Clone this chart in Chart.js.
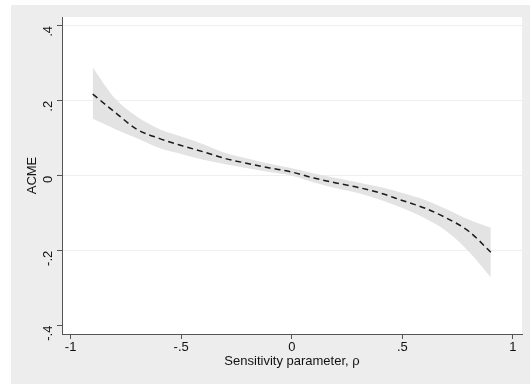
<!DOCTYPE html>
<html>
<head>
<meta charset="utf-8">
<script src="https://cdn.jsdelivr.net/npm/chart.js@4.4.1/dist/chart.umd.min.js"></script>
<style>
html,body{margin:0;padding:0;background:#fff;}
#wrap{width:530px;height:384px;position:relative;}
</style>
</head>
<body>
<div id="wrap"><canvas id="c" width="530" height="384"></canvas></div>
<script>
const rho   = [-0.9,-0.8,-0.7,-0.6,-0.5,-0.4,-0.3,-0.2,-0.1,0,0.1,0.2,0.3,0.4,0.5,0.6,0.7,0.8,0.9];
const acme  = [0.218,0.170,0.124,0.100,0.081,0.064,0.046,0.033,0.021,0.010,-0.006,-0.019,-0.031,-0.046,-0.066,-0.086,-0.113,-0.148,-0.204];
const upper = [0.289,0.207,0.158,0.125,0.105,0.084,0.061,0.046,0.032,0.020,0.006,-0.006,-0.018,-0.030,-0.046,-0.064,-0.089,-0.117,-0.139];
const lower = [0.152,0.125,0.100,0.074,0.058,0.043,0.031,0.020,0.010,0.000,-0.018,-0.033,-0.046,-0.064,-0.086,-0.113,-0.148,-0.202,-0.271];
const xTicks = [-1,-0.5,0,0.5,1];
const xTickLabels = ["-1","-.5","0",".5","1"];
const yTicks = [-0.4,-0.2,0,0.2,0.4];
const yTickLabels = ["-.4","-.2","0",".2",".4"];

const pts = arr => rho.map((r,i)=>({x:r,y:arr[i]}));

const bgPlugin = {
  id:'bg',
  beforeDraw(chart){
    const ctx = chart.ctx, a = chart.chartArea;
    ctx.save();
    ctx.fillStyle = '#ffffff';
    ctx.fillRect(0,0,chart.width,chart.height);
    ctx.fillStyle = '#ededed';
    ctx.fillRect(11,5,chart.width-11,chart.height-5);
    ctx.fillStyle = '#ffffff';
    ctx.fillRect(a.left,a.top,a.right-a.left,a.bottom-a.top);
    ctx.restore();
  }
};

const FONT = "'Liberation Sans', Arial, sans-serif";

new Chart(document.getElementById('c'), {
  type:'line',
  data:{
    datasets:[
      {label:'ACME', data:pts(acme), borderColor:'#1a1a1a', borderWidth:1.5, borderDash:[6,4],
       pointRadius:0, fill:false, order:0, cubicInterpolationMode:'monotone'},
      {label:'upper', data:pts(upper), borderWidth:0, borderColor:'rgba(0,0,0,0)', pointRadius:0,
       backgroundColor:'#e3e3e3', fill:'+1', order:1, cubicInterpolationMode:'monotone'},
      {label:'lower', data:pts(lower), borderWidth:0, borderColor:'rgba(0,0,0,0)', pointRadius:0,
       backgroundColor:'#e3e3e3', fill:false, order:2, cubicInterpolationMode:'monotone'}
    ]
  },
  options:{
    responsive:false, animation:false, devicePixelRatio:1,
    layout:{padding:{left:0,top:17,right:8,bottom:0}},
    plugins:{legend:{display:false}, tooltip:{enabled:false}},
    scales:{
      x:{
        type:'linear', min:-1.039, max:1.041,
        afterBuildTicks(s){ s.ticks = xTicks.map(v=>({value:v})); },
        afterFit(s){ s.height = 50; },
        ticks:{ callback:(v)=>xTickLabels[xTicks.indexOf(v)], color:'#111', font:{family:FONT,size:13}, padding:1, maxRotation:0 },
        grid:{ drawOnChartArea:false, tickLength:5, tickColor:'#555' },
        border:{ color:'#555', width:1 },
        title:{ display:true, text:'Sensitivity parameter, ρ', color:'#111', font:{family:FONT,size:13}, padding:{top:0,bottom:15} }
      },
      y:{
        type:'linear', min:-0.4224, max:0.424,
        afterBuildTicks(s){ s.ticks = yTicks.map(v=>({value:v})); },
        afterFit(s){ s.width = 62; },
        ticks:{ callback:(v)=>yTickLabels[yTicks.indexOf(v)], color:'#111', font:{family:FONT,size:13}, padding:9, minRotation:90, maxRotation:90 },
        grid:{ color:(c)=> (c.tick && c.tick.value===-0.4) ? 'rgba(0,0,0,0)' : '#efefef', tickLength:5, tickColor:'#555', lineWidth:1 },
        border:{ color:'#555', width:1 },
        title:{ display:true, text:'ACME', color:'#111', font:{family:FONT,size:13}, padding:{top:25,bottom:0} }
      }
    }
  },
  plugins:[bgPlugin]
});
</script>
</body>
</html>
